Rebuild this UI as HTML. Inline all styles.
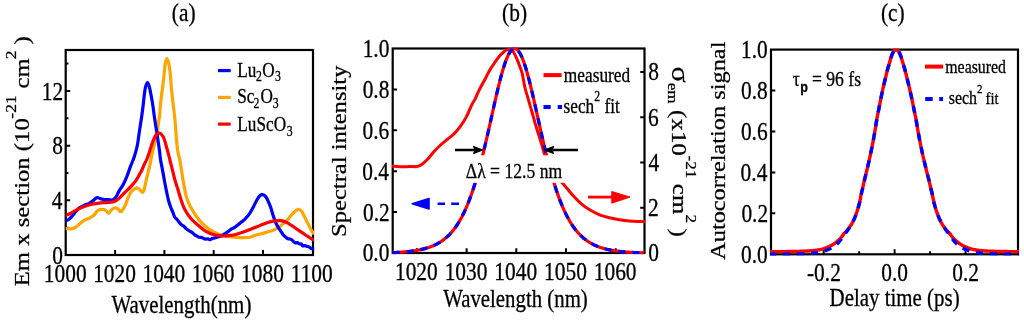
<!DOCTYPE html>
<html><head><meta charset="utf-8"><style>
html,body{margin:0;padding:0;background:#fff;}
svg{display:block;will-change:transform;}
text{font-family:"Liberation Serif", serif;fill:#000;stroke:#000;stroke-width:0.3px;}
</style></head><body>
<svg width="1024" height="322" viewBox="0 0 1024 322">
<defs>
<clipPath id="clipA"><rect x="65.7" y="49.0" width="248.4" height="207.0"/></clipPath>
<clipPath id="clipB"><rect x="391.7" y="47.3" width="253.8" height="206.9"/></clipPath>
<clipPath id="clipC"><rect x="770.0" y="48.4" width="249.0" height="207.1"/></clipPath>
</defs>
<rect width="1024" height="322" fill="#fff"/>
<rect x="65.7" y="50.0" width="247.3" height="205.0" fill="none" stroke="#000" stroke-width="2.2"/>
<path d="M115.10,255.00 V250.00 M164.40,255.00 V250.00 M213.70,255.00 V250.00 M263.00,255.00 V250.00 M65.70,200.32 H70.20 M65.70,145.64 H70.20 M65.70,90.96 H70.20 M65.70,227.66 H68.50 M65.70,172.98 H68.50 M65.70,118.30 H68.50 M65.70,63.62 H68.50 " stroke="#000" stroke-width="2"/>
<g clip-path="url(#clipA)" fill="none" stroke-width="3.2" stroke-linejoin="round" stroke-linecap="round">
<path d="M64.90,228.40 C65.83,228.47 68.78,228.95 70.50,228.80 C72.22,228.65 73.65,228.33 75.20,227.50 C76.75,226.67 78.25,225.03 79.80,223.80 C81.35,222.57 82.93,221.03 84.50,220.10 C86.07,219.17 87.65,218.98 89.20,218.20 C90.75,217.42 92.42,216.65 93.80,215.40 C95.18,214.15 96.25,211.72 97.50,210.70 C98.75,209.68 100.05,209.45 101.30,209.30 C102.55,209.15 103.77,209.15 105.00,209.80 C106.23,210.45 107.62,213.20 108.70,213.20 C109.78,213.20 110.57,210.67 111.50,209.80 C112.43,208.93 113.22,208.15 114.30,208.00 C115.38,207.85 116.92,208.28 118.00,208.90 C119.08,209.52 119.65,212.18 120.80,211.70 C121.95,211.22 123.60,208.58 124.90,206.00 C126.20,203.42 127.37,198.77 128.60,196.20 C129.83,193.63 130.90,192.00 132.30,190.60 C133.70,189.20 135.75,187.95 137.00,187.80 C138.25,187.65 138.87,188.92 139.80,189.70 C140.73,190.48 141.85,192.62 142.60,192.50 C143.35,192.38 143.73,190.92 144.30,189.00 C144.87,187.08 145.35,183.83 146.00,181.00 C146.65,178.17 147.53,174.75 148.20,172.00 C148.87,169.25 149.30,167.77 150.00,164.50 C150.70,161.23 151.48,156.48 152.40,152.40 C153.32,148.32 154.70,143.35 155.50,140.00 C156.30,136.65 156.72,135.03 157.20,132.30 C157.68,129.57 157.98,126.50 158.40,123.60 C158.82,120.70 159.37,118.00 159.70,114.90 C160.03,111.80 160.05,108.60 160.40,105.00 C160.75,101.40 161.40,96.47 161.80,93.30 C162.20,90.13 162.50,88.38 162.80,86.00 C163.10,83.62 163.32,81.60 163.60,79.00 C163.88,76.40 164.20,73.08 164.50,70.40 C164.80,67.72 164.98,64.87 165.40,62.90 C165.82,60.93 166.47,58.60 167.00,58.60 C167.53,58.60 168.12,60.93 168.60,62.90 C169.08,64.87 169.55,67.72 169.90,70.40 C170.25,73.08 170.45,76.07 170.70,79.00 C170.95,81.93 171.17,85.37 171.40,88.00 C171.63,90.63 171.75,91.58 172.10,94.80 C172.45,98.02 173.02,103.10 173.50,107.30 C173.98,111.50 174.50,114.55 175.00,120.00 C175.50,125.45 176.00,134.60 176.50,140.00 C177.00,145.40 177.43,149.07 178.00,152.40 C178.57,155.73 179.33,157.08 179.90,160.00 C180.47,162.92 180.88,166.58 181.40,169.90 C181.92,173.22 182.43,176.58 183.00,179.90 C183.57,183.22 184.08,186.48 184.80,189.80 C185.52,193.12 185.85,196.07 187.30,199.80 C188.75,203.53 191.22,208.47 193.50,212.20 C195.78,215.93 198.30,219.30 201.00,222.20 C203.70,225.10 206.60,227.53 209.70,229.60 C212.80,231.67 216.28,233.43 219.60,234.60 C222.92,235.77 226.77,236.12 229.60,236.60 C232.43,237.08 234.40,237.32 236.60,237.50 C238.80,237.68 240.57,237.73 242.80,237.70 C245.03,237.67 247.77,237.75 250.00,237.30 C252.23,236.85 253.87,235.70 256.20,235.00 C258.53,234.30 261.42,233.80 264.00,233.10 C266.58,232.40 269.87,231.42 271.70,230.80 C273.53,230.18 273.52,230.25 275.00,229.40 C276.48,228.55 278.73,227.08 280.60,225.70 C282.47,224.32 284.33,222.95 286.20,221.10 C288.07,219.25 290.10,216.40 291.80,214.60 C293.50,212.80 295.17,211.15 296.40,210.30 C297.63,209.45 298.27,209.25 299.20,209.50 C300.13,209.75 301.07,210.50 302.00,211.80 C302.93,213.10 303.87,215.45 304.80,217.30 C305.73,219.15 306.67,221.03 307.60,222.90 C308.53,224.77 309.47,226.78 310.40,228.50 C311.33,230.22 312.73,232.42 313.20,233.20" stroke="#ffa500"/>
<path d="M64.90,221.00 C65.53,220.75 67.45,220.37 68.70,219.50 C69.95,218.63 71.17,217.17 72.40,215.80 C73.63,214.43 74.87,212.67 76.10,211.30 C77.33,209.93 78.40,208.62 79.80,207.60 C81.20,206.58 82.93,205.92 84.50,205.20 C86.07,204.48 87.80,204.02 89.20,203.30 C90.60,202.58 91.67,201.83 92.90,200.90 C94.13,199.97 95.37,198.08 96.60,197.70 C97.83,197.32 99.05,198.28 100.30,198.60 C101.55,198.92 102.70,199.43 104.10,199.60 C105.50,199.77 107.38,199.52 108.70,199.60 C110.02,199.68 111.03,200.23 112.00,200.10 C112.97,199.97 113.75,199.45 114.50,198.80 C115.25,198.15 115.70,197.57 116.50,196.20 C117.30,194.83 118.22,192.47 119.30,190.60 C120.38,188.73 121.75,187.32 123.00,185.00 C124.25,182.68 125.55,179.80 126.80,176.70 C128.05,173.60 129.27,169.67 130.50,166.40 C131.73,163.13 133.07,160.58 134.20,157.10 C135.33,153.62 136.52,149.22 137.30,145.50 C138.08,141.78 138.38,138.23 138.90,134.80 C139.42,131.37 139.90,128.22 140.40,124.90 C140.90,121.58 141.43,118.22 141.90,114.90 C142.37,111.58 142.80,108.35 143.20,105.00 C143.60,101.65 143.92,97.78 144.30,94.80 C144.68,91.82 144.97,89.13 145.50,87.10 C146.03,85.07 146.85,82.60 147.50,82.60 C148.15,82.60 148.82,85.07 149.40,87.10 C149.98,89.13 150.43,91.82 151.00,94.80 C151.57,97.78 152.28,101.65 152.80,105.00 C153.32,108.35 153.63,111.58 154.10,114.90 C154.57,118.22 155.08,121.58 155.60,124.90 C156.12,128.22 156.82,132.28 157.20,134.80 C157.58,137.32 157.53,137.47 157.90,140.00 C158.27,142.53 158.95,146.67 159.40,150.00 C159.85,153.33 160.08,156.68 160.60,160.00 C161.12,163.32 161.88,166.58 162.50,169.90 C163.12,173.22 163.68,176.58 164.30,179.90 C164.92,183.22 165.52,186.45 166.20,189.80 C166.88,193.15 167.67,197.13 168.40,200.00 C169.13,202.87 169.88,205.01 170.60,207.00 C171.32,208.99 172.00,210.22 172.70,211.94 C173.40,213.66 174.07,216.05 174.80,217.30 C175.53,218.55 176.33,218.56 177.10,219.45 C177.87,220.33 178.63,221.69 179.40,222.61 C180.17,223.54 180.97,224.41 181.70,225.00 C182.43,225.59 183.10,225.59 183.80,226.15 C184.50,226.72 185.20,227.74 185.90,228.38 C186.60,229.02 187.28,229.48 188.00,230.00 C188.72,230.52 189.49,231.02 190.23,231.47 C190.98,231.93 191.72,232.16 192.47,232.74 C193.21,233.31 193.94,234.34 194.70,234.90 C195.46,235.46 196.23,235.71 197.00,236.11 C197.77,236.51 198.57,237.09 199.30,237.30 C200.03,237.51 200.68,237.16 201.37,237.34 C202.06,237.53 202.74,238.13 203.43,238.42 C204.12,238.71 204.76,239.03 205.50,239.10 C206.24,239.17 207.07,238.75 207.85,238.83 C208.63,238.92 209.42,239.69 210.20,239.60 C210.97,239.51 211.73,238.58 212.50,238.31 C213.27,238.04 214.03,238.19 214.80,238.00 C215.58,237.81 216.37,237.41 217.15,237.16 C217.93,236.91 218.72,236.74 219.50,236.50 C220.28,236.26 221.07,236.13 221.85,235.74 C222.63,235.36 223.04,234.97 224.20,234.20 C225.36,233.43 227.64,231.95 228.80,231.10 C229.96,230.25 230.37,229.60 231.15,229.08 C231.93,228.56 232.72,228.43 233.50,228.00 C234.28,227.57 235.03,227.01 235.80,226.48 C236.57,225.95 237.32,225.44 238.10,224.80 C238.88,224.16 239.67,223.30 240.45,222.67 C241.23,222.03 242.02,221.64 242.80,221.00 C243.58,220.36 244.37,219.62 245.15,218.84 C245.93,218.05 246.69,217.27 247.50,216.30 C248.31,215.33 249.07,214.47 250.00,213.00 C250.93,211.53 252.07,209.45 253.10,207.50 C254.13,205.55 255.17,203.18 256.20,201.30 C257.23,199.42 258.40,197.32 259.30,196.20 C260.20,195.08 260.82,194.78 261.60,194.60 C262.38,194.42 263.22,194.63 264.00,195.10 C264.78,195.57 265.53,196.23 266.30,197.40 C267.07,198.57 267.82,200.28 268.60,202.10 C269.38,203.92 270.22,205.97 271.00,208.30 C271.78,210.63 272.53,213.77 273.30,216.10 C274.07,218.43 274.82,220.50 275.60,222.30 C276.38,224.10 277.08,225.35 278.00,226.90 C278.92,228.45 280.20,230.25 281.10,231.60 C282.00,232.95 282.63,234.08 283.40,235.00 C284.17,235.92 284.93,236.49 285.70,237.13 C286.47,237.76 287.31,238.50 288.00,238.80 C288.69,239.10 289.24,238.79 289.87,238.95 C290.49,239.12 291.11,239.35 291.73,239.79 C292.36,240.23 292.98,241.07 293.60,241.60 C294.22,242.13 294.84,242.77 295.47,242.94 C296.09,243.11 296.71,242.49 297.33,242.63 C297.96,242.78 298.58,243.58 299.20,243.80 C299.82,244.02 300.44,243.60 301.07,243.96 C301.69,244.31 302.31,245.67 302.93,245.96 C303.56,246.25 304.11,245.64 304.80,245.70 C305.49,245.76 306.33,246.11 307.10,246.35 C307.87,246.58 308.70,246.72 309.40,247.10 C310.10,247.48 310.67,248.34 311.30,248.66 C311.93,248.97 312.88,248.94 313.20,249.00" stroke="#0000ff"/>
<path d="M64.90,215.60 C65.68,215.30 67.88,214.62 69.60,213.80 C71.32,212.98 73.33,211.68 75.20,210.70 C77.07,209.72 78.93,208.73 80.80,207.90 C82.67,207.07 84.55,206.32 86.40,205.70 C88.25,205.08 90.05,204.60 91.90,204.20 C93.75,203.80 95.63,203.55 97.50,203.30 C99.37,203.05 101.23,202.85 103.10,202.70 C104.97,202.55 107.13,202.52 108.70,202.40 C110.27,202.28 111.35,202.25 112.50,202.00 C113.65,201.75 114.47,201.55 115.60,200.90 C116.73,200.25 117.75,199.50 119.30,198.10 C120.85,196.70 123.03,194.37 124.90,192.50 C126.77,190.63 128.63,188.92 130.50,186.90 C132.37,184.88 134.52,182.65 136.10,180.40 C137.68,178.15 139.07,175.05 140.00,173.40 C140.93,171.75 140.92,172.18 141.70,170.50 C142.48,168.82 143.93,164.97 144.70,163.30 C145.47,161.63 145.53,162.32 146.30,160.50 C147.07,158.68 148.42,154.98 149.30,152.40 C150.18,149.82 150.70,147.52 151.60,145.00 C152.50,142.48 153.80,139.13 154.70,137.30 C155.60,135.47 156.27,134.68 157.00,134.00 C157.73,133.32 158.35,133.12 159.10,133.20 C159.85,133.28 160.68,133.62 161.50,134.50 C162.32,135.38 163.27,136.75 164.00,138.50 C164.73,140.25 165.23,142.68 165.90,145.00 C166.57,147.32 167.33,149.90 168.00,152.40 C168.67,154.90 169.17,157.08 169.90,160.00 C170.63,162.92 171.57,166.58 172.40,169.90 C173.23,173.22 173.97,176.58 174.90,179.90 C175.83,183.22 176.97,186.45 178.00,189.80 C179.03,193.15 179.97,196.72 181.10,200.00 C182.23,203.28 183.13,206.37 184.80,209.50 C186.47,212.63 188.77,216.08 191.10,218.80 C193.43,221.52 196.40,223.75 198.80,225.80 C201.20,227.85 203.35,229.75 205.50,231.10 C207.65,232.45 209.62,233.18 211.70,233.90 C213.78,234.62 215.92,235.05 218.00,235.40 C220.08,235.75 222.13,236.00 224.20,236.00 C226.27,236.00 228.33,235.70 230.40,235.40 C232.47,235.10 234.53,234.72 236.60,234.20 C238.67,233.68 240.57,233.08 242.80,232.30 C245.03,231.52 247.77,230.40 250.00,229.50 C252.23,228.60 254.13,227.72 256.20,226.90 C258.27,226.08 260.33,225.37 262.40,224.60 C264.47,223.83 266.53,222.92 268.60,222.30 C270.67,221.68 272.80,221.17 274.80,220.90 C276.80,220.63 278.70,220.47 280.60,220.70 C282.50,220.93 284.33,221.47 286.20,222.30 C288.07,223.13 289.95,224.52 291.80,225.70 C293.65,226.88 295.45,228.15 297.30,229.40 C299.15,230.65 301.03,231.95 302.90,233.20 C304.77,234.45 306.78,235.82 308.50,236.90 C310.22,237.98 312.42,239.23 313.20,239.70" stroke="#ff0000"/>
</g>
<text transform="translate(43.86,281.50) scale(0.840,1)" font-size="25.50">1000</text>
<text transform="translate(93.16,281.50) scale(0.840,1)" font-size="25.50">1020</text>
<text transform="translate(142.46,281.50) scale(0.840,1)" font-size="25.50">1040</text>
<text transform="translate(191.76,281.50) scale(0.840,1)" font-size="25.50">1060</text>
<text transform="translate(241.06,281.50) scale(0.840,1)" font-size="25.50">1080</text>
<text transform="translate(290.75,281.50) scale(0.840,1)" font-size="25.50">1100</text>
<text transform="translate(52.13,263.60) scale(0.840,1)" font-size="25.50">0</text>
<text transform="translate(51.65,208.92) scale(0.840,1)" font-size="25.50">4</text>
<text transform="translate(52.13,154.24) scale(0.840,1)" font-size="25.50">8</text>
<text transform="translate(41.78,99.56) scale(0.840,1)" font-size="25.50">12</text>
<text transform="translate(111.38,312.50) scale(0.840,1)" font-size="24.90">Wavelength(nm)</text>
<text transform="translate(171.76,20.50) scale(0.840,1)" font-size="25.50">(a)</text>
<path d="M218,70.6 H230.7" stroke="#0000ff" stroke-width="3.2"/>
<path d="M218,97.4 H230.7" stroke="#ffa500" stroke-width="3.2"/>
<path d="M218,124.1 H230.7" stroke="#ff0000" stroke-width="3.2"/>
<text transform="translate(237.30,76.60) scale(0.840,1)" font-size="20.50">Lu</text>
<text transform="translate(256.08,81.30) scale(0.840,1)" font-size="14.00">2</text>
<text transform="translate(262.29,76.60) scale(0.840,1)" font-size="20.50">O</text>
<text transform="translate(274.94,81.30) scale(0.840,1)" font-size="14.00">3</text>
<text transform="translate(237.15,103.20) scale(0.840,1)" font-size="20.50">Sc</text>
<text transform="translate(253.58,108.30) scale(0.840,1)" font-size="14.00">2</text>
<text transform="translate(260.39,103.20) scale(0.840,1)" font-size="20.50">O</text>
<text transform="translate(272.64,108.30) scale(0.840,1)" font-size="14.00">3</text>
<text transform="translate(237.30,130.50) scale(0.840,1)" font-size="20.50">LuScO</text>
<text transform="translate(286.64,135.60) scale(0.840,1)" font-size="14.00">3</text>
<text transform="translate(28.90,286.22) rotate(-90) scale(1,0.840)" font-size="24.69">Em x section (10</text>
<text transform="translate(16.10,118.65) rotate(-90) scale(1,0.840)" font-size="17.50">-21</text>
<text transform="translate(28.90,88.54) rotate(-90) scale(1,0.840)" font-size="24.69">cm</text>
<text transform="translate(15.90,59.37) rotate(-90) scale(1,0.840)" font-size="17.50">2</text>
<text transform="translate(28.90,44.49) rotate(-90) scale(1,0.840)" font-size="24.69">)</text>
<rect x="392.7" y="48.5" width="251.8" height="204.5" fill="none" stroke="#000" stroke-width="2.2"/>
<path d="M416.90,253.00 V248.20 M466.60,253.00 V248.20 M516.30,253.00 V248.20 M566.00,253.00 V248.20 M615.70,253.00 V248.20 M392.70,212.10 H397.00 M392.70,171.20 H397.00 M392.70,130.30 H397.00 M392.70,89.40 H397.00 M644.50,207.74 H640.20 M644.50,162.48 H640.20 M644.50,117.22 H640.20 M644.50,71.96 H640.20 " stroke="#000" stroke-width="2"/>
<g clip-path="url(#clipB)" fill="none" stroke-linejoin="round">
<path d="M392.00,166.30 C392.42,166.28 392.85,166.12 394.50,166.20 C396.15,166.28 399.42,166.75 401.90,166.80 C404.38,166.85 406.92,166.53 409.40,166.50 C411.88,166.47 414.73,166.95 416.80,166.60 C418.87,166.25 419.97,165.67 421.80,164.40 C423.63,163.13 425.83,161.07 427.80,159.00 C429.77,156.93 431.47,154.33 433.60,152.00 C435.73,149.67 438.27,147.13 440.60,145.00 C442.93,142.87 445.28,141.13 447.60,139.20 C449.92,137.27 452.38,135.53 454.50,133.40 C456.62,131.27 458.35,129.12 460.30,126.40 C462.25,123.68 464.25,120.78 466.20,117.10 C468.15,113.42 470.50,107.33 472.00,104.30 C473.50,101.27 474.15,100.97 475.20,98.90 C476.25,96.83 477.27,94.10 478.30,91.90 C479.33,89.70 480.37,87.63 481.40,85.70 C482.43,83.77 483.47,82.23 484.50,80.30 C485.53,78.37 486.57,76.05 487.60,74.10 C488.63,72.15 489.67,70.28 490.70,68.60 C491.73,66.92 492.77,65.55 493.80,64.00 C494.83,62.45 495.87,60.73 496.90,59.30 C497.93,57.87 498.97,56.53 500.00,55.40 C501.03,54.27 502.07,53.37 503.10,52.50 C504.13,51.63 505.07,50.72 506.20,50.20 C507.33,49.68 508.87,49.30 509.90,49.40 C510.93,49.50 511.57,49.93 512.40,50.80 C513.23,51.67 514.07,53.05 514.90,54.60 C515.73,56.15 516.58,58.13 517.40,60.10 C518.22,62.07 518.98,64.12 519.80,66.40 C520.62,68.68 521.45,70.28 522.30,73.80 C523.15,77.32 524.05,83.78 524.90,87.50 C525.75,91.22 526.57,93.22 527.40,96.10 C528.23,98.98 529.07,101.90 529.90,104.80 C530.73,107.70 531.45,110.15 532.40,113.50 C533.35,116.85 534.55,121.33 535.60,124.90 C536.65,128.47 537.67,131.58 538.70,134.90 C539.73,138.22 540.77,141.45 541.80,144.80 C542.83,148.15 543.53,151.47 544.90,155.00 C546.27,158.53 548.15,162.50 550.00,166.00 C551.85,169.50 553.93,173.17 556.00,176.00 C558.07,178.83 560.52,180.88 562.40,183.00 C564.28,185.12 565.45,186.52 567.30,188.70 C569.15,190.88 571.22,193.62 573.50,196.10 C575.78,198.58 578.30,201.32 581.00,203.60 C583.70,205.88 586.60,207.93 589.70,209.80 C592.80,211.67 596.28,213.48 599.60,214.80 C602.92,216.12 606.28,216.88 609.60,217.70 C612.92,218.52 616.20,219.15 619.50,219.70 C622.80,220.25 626.08,220.70 629.40,221.00 C632.72,221.30 636.80,221.40 639.40,221.50 C642.00,221.60 644.07,221.58 645.00,221.60" stroke="#ff0000" stroke-width="3"/>
<path d="M392.70,252.64 L393.70,252.59 L394.70,252.54 L395.70,252.49 L396.70,252.44 L397.70,252.38 L398.70,252.32 L399.70,252.26 L400.70,252.19 L401.70,252.12 L402.70,252.04 L403.70,251.96 L404.70,251.88 L405.70,251.79 L406.70,251.70 L407.70,251.60 L408.70,251.49 L409.70,251.38 L410.70,251.26 L411.70,251.13 L412.70,251.00 L413.70,250.86 L414.70,250.71 L415.70,250.55 L416.70,250.38 L417.70,250.21 L418.70,250.02 L419.70,249.82 L420.70,249.61 L421.70,249.39 L422.70,249.16 L423.70,248.91 L424.70,248.65 L425.70,248.37 L426.70,248.08 L427.70,247.77 L428.70,247.45 L429.70,247.10 L430.70,246.74 L431.70,246.35 L432.70,245.94 L433.70,245.51 L434.70,245.06 L435.70,244.58 L436.70,244.07 L437.70,243.53 L438.70,242.97 L439.70,242.37 L440.70,241.74 L441.70,241.08 L442.70,240.37 L443.70,239.63 L444.70,238.85 L445.70,238.03 L446.70,237.16 L447.70,236.25 L448.70,235.28 L449.70,234.27 L450.70,233.20 L451.70,232.07 L452.70,230.89 L453.70,229.65 L454.70,228.34 L455.70,226.96 L456.70,225.51 L457.70,224.00 L458.70,222.40 L459.70,220.73 L460.70,218.98 L461.70,217.14 L462.70,215.22 L463.70,213.20 L464.70,211.10 L465.70,208.89 L466.70,206.59 L467.70,204.19 L468.70,201.69 L469.70,199.08 L470.70,196.37 L471.70,193.54 L472.70,190.61 L473.70,187.57 L474.70,184.41 L475.70,181.14 L476.70,177.77 L477.70,174.28 L478.70,170.68 L479.70,166.98 L480.70,163.17 L481.70,159.26 L482.70,155.26 L483.70,151.17 L484.70,146.99 L485.70,142.74 L486.70,138.42 L487.70,134.04 L488.70,129.61 L489.70,125.14 L490.70,120.65 L491.70,116.14 L492.70,111.64 L493.70,107.15 L494.70,102.70 L495.70,98.30 L496.70,93.97 L497.70,89.72 L498.70,85.58 L499.70,81.57 L500.70,77.70 L501.70,74.00 L502.70,70.47 L503.70,67.16 L504.70,64.06 L505.70,61.20 L506.70,58.59 L507.70,56.26 L508.70,54.21 L509.70,52.46 L510.70,51.02 L511.70,49.90 L512.70,49.10 L513.70,48.64 L514.70,48.50 L515.70,48.70 L516.70,49.24 L517.70,50.10 L518.70,51.29 L519.70,52.79 L520.70,54.60 L521.70,56.71 L522.70,59.09 L523.70,61.75 L524.70,64.66 L525.70,67.80 L526.70,71.16 L527.70,74.72 L528.70,78.46 L529.70,82.36 L530.70,86.40 L531.70,90.56 L532.70,94.83 L533.70,99.18 L534.70,103.59 L535.70,108.05 L536.70,112.54 L537.70,117.04 L538.70,121.55 L539.70,126.04 L540.70,130.50 L541.70,134.92 L542.70,139.29 L543.70,143.60 L544.70,147.84 L545.70,152.00 L546.70,156.07 L547.70,160.05 L548.70,163.94 L549.70,167.73 L550.70,171.41 L551.70,174.98 L552.70,178.45 L553.70,181.81 L554.70,185.05 L555.70,188.18 L556.70,191.21 L557.70,194.12 L558.70,196.92 L559.70,199.61 L560.70,202.20 L561.70,204.68 L562.70,207.06 L563.70,209.34 L564.70,211.52 L565.70,213.61 L566.70,215.61 L567.70,217.51 L568.70,219.33 L569.70,221.07 L570.70,222.73 L571.70,224.31 L572.70,225.81 L573.70,227.24 L574.70,228.60 L575.70,229.90 L576.70,231.13 L577.70,232.30 L578.70,233.42 L579.70,234.48 L580.70,235.48 L581.70,236.43 L582.70,237.34 L583.70,238.20 L584.70,239.01 L585.70,239.78 L586.70,240.52 L587.70,241.21 L588.70,241.87 L589.70,242.49 L590.70,243.08 L591.70,243.64 L592.70,244.17 L593.70,244.68 L594.70,245.15 L595.70,245.60 L596.70,246.03 L597.70,246.43 L598.70,246.81 L599.70,247.17 L600.70,247.51 L601.70,247.84 L602.70,248.14 L603.70,248.43 L604.70,248.70 L605.70,248.96 L606.70,249.21 L607.70,249.44 L608.70,249.66 L609.70,249.86 L610.70,250.06 L611.70,250.24 L612.70,250.42 L613.70,250.58 L614.70,250.74 L615.70,250.89 L616.70,251.03 L617.70,251.16 L618.70,251.28 L619.70,251.40 L620.70,251.51 L621.70,251.62 L622.70,251.72 L623.70,251.81 L624.70,251.90 L625.70,251.98 L626.70,252.06 L627.70,252.13 L628.70,252.21 L629.70,252.27 L630.70,252.34 L631.70,252.39 L632.70,252.45 L633.70,252.50 L634.70,252.55 L635.70,252.60 L636.70,252.65 L637.70,252.69 L638.70,252.73 L639.70,252.77 L640.70,252.80 L641.70,252.84 L642.70,252.87 L643.70,252.90" stroke="#ff0000" stroke-width="3.2"/>
<path d="M392.70,252.64 L393.70,252.59 L394.70,252.54 L395.70,252.49 L396.70,252.44 L397.70,252.38 L398.70,252.32 L399.70,252.26 L400.70,252.19 L401.70,252.12 L402.70,252.04 L403.70,251.96 L404.70,251.88 L405.70,251.79 L406.70,251.70 L407.70,251.60 L408.70,251.49 L409.70,251.38 L410.70,251.26 L411.70,251.13 L412.70,251.00 L413.70,250.86 L414.70,250.71 L415.70,250.55 L416.70,250.38 L417.70,250.21 L418.70,250.02 L419.70,249.82 L420.70,249.61 L421.70,249.39 L422.70,249.16 L423.70,248.91 L424.70,248.65 L425.70,248.37 L426.70,248.08 L427.70,247.77 L428.70,247.45 L429.70,247.10 L430.70,246.74 L431.70,246.35 L432.70,245.94 L433.70,245.51 L434.70,245.06 L435.70,244.58 L436.70,244.07 L437.70,243.53 L438.70,242.97 L439.70,242.37 L440.70,241.74 L441.70,241.08 L442.70,240.37 L443.70,239.63 L444.70,238.85 L445.70,238.03 L446.70,237.16 L447.70,236.25 L448.70,235.28 L449.70,234.27 L450.70,233.20 L451.70,232.07 L452.70,230.89 L453.70,229.65 L454.70,228.34 L455.70,226.96 L456.70,225.51 L457.70,224.00 L458.70,222.40 L459.70,220.73 L460.70,218.98 L461.70,217.14 L462.70,215.22 L463.70,213.20 L464.70,211.10 L465.70,208.89 L466.70,206.59 L467.70,204.19 L468.70,201.69 L469.70,199.08 L470.70,196.37 L471.70,193.54 L472.70,190.61 L473.70,187.57 L474.70,184.41 L475.70,181.14 L476.70,177.77 L477.70,174.28 L478.70,170.68 L479.70,166.98 L480.70,163.17 L481.70,159.26 L482.70,155.26 L483.70,151.17 L484.70,146.99 L485.70,142.74 L486.70,138.42 L487.70,134.04 L488.70,129.61 L489.70,125.14 L490.70,120.65 L491.70,116.14 L492.70,111.64 L493.70,107.15 L494.70,102.70 L495.70,98.30 L496.70,93.97 L497.70,89.72 L498.70,85.58 L499.70,81.57 L500.70,77.70 L501.70,74.00 L502.70,70.47 L503.70,67.16 L504.70,64.06 L505.70,61.20 L506.70,58.59 L507.70,56.26 L508.70,54.21 L509.70,52.46 L510.70,51.02 L511.70,49.90 L512.70,49.10 L513.70,48.64 L514.70,48.50 L515.70,48.70 L516.70,49.24 L517.70,50.10 L518.70,51.29 L519.70,52.79 L520.70,54.60 L521.70,56.71 L522.70,59.09 L523.70,61.75 L524.70,64.66 L525.70,67.80 L526.70,71.16 L527.70,74.72 L528.70,78.46 L529.70,82.36 L530.70,86.40 L531.70,90.56 L532.70,94.83 L533.70,99.18 L534.70,103.59 L535.70,108.05 L536.70,112.54 L537.70,117.04 L538.70,121.55 L539.70,126.04 L540.70,130.50 L541.70,134.92 L542.70,139.29 L543.70,143.60 L544.70,147.84 L545.70,152.00 L546.70,156.07 L547.70,160.05 L548.70,163.94 L549.70,167.73 L550.70,171.41 L551.70,174.98 L552.70,178.45 L553.70,181.81 L554.70,185.05 L555.70,188.18 L556.70,191.21 L557.70,194.12 L558.70,196.92 L559.70,199.61 L560.70,202.20 L561.70,204.68 L562.70,207.06 L563.70,209.34 L564.70,211.52 L565.70,213.61 L566.70,215.61 L567.70,217.51 L568.70,219.33 L569.70,221.07 L570.70,222.73 L571.70,224.31 L572.70,225.81 L573.70,227.24 L574.70,228.60 L575.70,229.90 L576.70,231.13 L577.70,232.30 L578.70,233.42 L579.70,234.48 L580.70,235.48 L581.70,236.43 L582.70,237.34 L583.70,238.20 L584.70,239.01 L585.70,239.78 L586.70,240.52 L587.70,241.21 L588.70,241.87 L589.70,242.49 L590.70,243.08 L591.70,243.64 L592.70,244.17 L593.70,244.68 L594.70,245.15 L595.70,245.60 L596.70,246.03 L597.70,246.43 L598.70,246.81 L599.70,247.17 L600.70,247.51 L601.70,247.84 L602.70,248.14 L603.70,248.43 L604.70,248.70 L605.70,248.96 L606.70,249.21 L607.70,249.44 L608.70,249.66 L609.70,249.86 L610.70,250.06 L611.70,250.24 L612.70,250.42 L613.70,250.58 L614.70,250.74 L615.70,250.89 L616.70,251.03 L617.70,251.16 L618.70,251.28 L619.70,251.40 L620.70,251.51 L621.70,251.62 L622.70,251.72 L623.70,251.81 L624.70,251.90 L625.70,251.98 L626.70,252.06 L627.70,252.13 L628.70,252.21 L629.70,252.27 L630.70,252.34 L631.70,252.39 L632.70,252.45 L633.70,252.50 L634.70,252.55 L635.70,252.60 L636.70,252.65 L637.70,252.69 L638.70,252.73 L639.70,252.77 L640.70,252.80 L641.70,252.84 L642.70,252.87 L643.70,252.90" stroke="#0000ff" stroke-width="3.2" stroke-dasharray="7.2 6.8"/>
</g>
<rect x="464" y="155.3" width="104" height="27.5" fill="#fff"/>
<text transform="translate(394.96,280.20) scale(0.840,1)" font-size="25.50">1020</text>
<text transform="translate(444.66,280.20) scale(0.840,1)" font-size="25.50">1030</text>
<text transform="translate(494.36,280.20) scale(0.840,1)" font-size="25.50">1040</text>
<text transform="translate(544.06,280.20) scale(0.840,1)" font-size="25.50">1050</text>
<text transform="translate(593.76,280.20) scale(0.840,1)" font-size="25.50">1060</text>
<text transform="translate(362.66,261.40) scale(0.840,1)" font-size="25.50">0.0</text>
<text transform="translate(363.02,220.50) scale(0.840,1)" font-size="25.50">0.2</text>
<text transform="translate(362.19,179.60) scale(0.840,1)" font-size="25.50">0.4</text>
<text transform="translate(362.49,138.70) scale(0.840,1)" font-size="25.50">0.6</text>
<text transform="translate(362.66,97.80) scale(0.840,1)" font-size="25.50">0.8</text>
<text transform="translate(362.66,56.90) scale(0.840,1)" font-size="25.50">1.0</text>
<text transform="translate(648.19,261.40) scale(0.840,1)" font-size="25.50">0</text>
<text transform="translate(648.06,216.14) scale(0.840,1)" font-size="25.50">2</text>
<text transform="translate(648.57,170.88) scale(0.840,1)" font-size="25.50">4</text>
<text transform="translate(648.08,125.62) scale(0.840,1)" font-size="25.50">6</text>
<text transform="translate(648.19,80.36) scale(0.840,1)" font-size="25.50">8</text>
<text transform="translate(443.18,307.10) scale(0.840,1)" font-size="24.80">Wavelength (nm)</text>
<text transform="translate(502.06,20.50) scale(0.840,1)" font-size="25.50">(b)</text>
<text transform="translate(346.00,236.95) rotate(-90) scale(1,0.840)" font-size="24.60">Spectral intensity</text>
<text transform="translate(672.10,66.46) rotate(90) scale(1,0.840)" font-size="30.00">σ</text>
<text transform="translate(667.50,82.63) rotate(90) scale(1,0.840)" font-size="17.20">em</text>
<text transform="translate(672.20,110.10) rotate(90) scale(1,0.840)" font-size="24.97">(x10</text>
<text transform="translate(686.10,155.46) rotate(90) scale(1,0.840)" font-size="17.20">-21</text>
<text transform="translate(672.50,183.85) rotate(90) scale(1,0.840)" font-size="24.97">cm</text>
<text transform="translate(686.00,214.44) rotate(90) scale(1,0.840)" font-size="17.20">2</text>
<text transform="translate(672.20,228.50) rotate(90) scale(1,0.840)" font-size="24.97">)</text>
<path d="M543.5,75.1 H561.6" stroke="#ff0000" stroke-width="4"/>
<path d="M543.5,107.1 H562" stroke="#0000ff" stroke-width="4" stroke-dasharray="7.2 7"/>
<text transform="translate(563.84,81.60) scale(0.840,1)" font-size="20.60">measured</text>
<text transform="translate(563.49,113.3) scale(0.840,1)" font-size="20.6">sech<tspan font-size="14" dy="-12">2</tspan><tspan dy="12"> fit</tspan></text>
<path d="M455,150 H475 M578,150 H553" stroke="#000" stroke-width="2.6"/>
<path d="M473.6,146.6 L482.6,150 L473.6,153.4 L475.2,150 Z" fill="#000" stroke="#000" stroke-width="1.2" stroke-linejoin="round"/>
<path d="M553.6,146.6 L544.4,150 L553.6,153.4 L552,150 Z" fill="#000" stroke="#000" stroke-width="1.2" stroke-linejoin="round"/>
<text transform="translate(465.83,178.00) scale(0.840,1)" font-size="21.00">Δλ = 12.5 nm</text>
<path d="M412.2,203.8 L429,198.6 L429,209.0 Z" fill="#0000ff" stroke="#0000ff" stroke-width="1.6" stroke-linejoin="round"/>
<path d="M437.6,203.8 H445 M451.2,203.8 H459" stroke="#0000ff" stroke-width="2.4"/>
<path d="M588,197.1 H612" stroke="#ff0000" stroke-width="2.8"/>
<path d="M611.8,191.5 L630,197.1 L611.8,203.2 Z" fill="#ff0000" stroke="#ff0000" stroke-width="1" stroke-linejoin="round"/>
<rect x="771.0" y="49.6" width="247.0" height="204.7" fill="none" stroke="#000" stroke-width="2.2"/>
<path d="M823.70,254.30 V249.30 M894.60,254.30 V249.30 M965.50,254.30 V249.30 M788.25,254.30 V251.30 M859.15,254.30 V251.30 M930.05,254.30 V251.30 M1000.95,254.30 V251.30 M771.00,213.36 H775.30 M771.00,172.42 H775.30 M771.00,131.48 H775.30 M771.00,90.54 H775.30 " stroke="#000" stroke-width="2"/>
<g clip-path="url(#clipC)" fill="none" stroke-linejoin="round">
<path d="M769.00,251.69 L770.00,251.69 L771.00,251.69 L772.00,251.68 L773.00,251.68 L774.00,251.67 L775.00,251.67 L776.00,251.66 L777.00,251.66 L778.00,251.65 L779.00,251.64 L780.00,251.64 L781.00,251.63 L782.00,251.62 L783.00,251.61 L784.00,251.60 L785.00,251.59 L786.00,251.58 L787.00,251.56 L788.00,251.55 L789.00,251.54 L790.00,251.52 L791.00,251.51 L792.00,251.49 L793.00,251.48 L794.00,251.46 L795.00,251.44 L796.00,251.42 L797.00,251.40 L798.00,251.38 L799.00,251.35 L800.00,251.32 L801.00,251.30 L802.00,251.27 L803.00,251.24 L804.00,251.20 L805.00,251.17 L806.00,251.13 L807.00,251.07 L808.00,251.01 L809.00,250.94 L810.00,250.87 L811.00,250.79 L812.00,250.70 L813.00,250.61 L814.00,250.50 L815.00,250.39 L816.00,250.26 L817.00,250.13 L818.00,249.97 L819.00,249.79 L820.00,249.58 L821.00,249.36 L822.00,249.11 L823.00,248.83 L824.00,248.53 L825.00,248.19 L826.00,247.82 L827.00,247.41 L828.00,247.00 L829.00,246.58 L830.00,246.12 L831.00,245.63 L832.00,245.09 L833.00,244.51 L834.00,243.87 L835.00,243.18 L836.00,242.38 L837.00,241.49 L838.00,240.69 L839.00,239.79 L840.00,238.78 L841.00,237.66 L842.00,236.42 L843.00,235.03 L844.00,233.58 L845.00,232.60 L846.00,231.55 L847.00,230.43 L848.00,229.22 L849.00,227.94 L850.00,226.56 L851.00,225.07 L852.00,223.32 L853.00,221.47 L854.00,219.46 L855.00,217.05 L856.00,214.47 L857.00,211.57 L858.00,208.38 L859.00,204.80 L860.00,200.75 L861.00,195.03 L862.00,190.87 L863.00,186.63 L864.00,182.09 L865.00,177.80 L866.00,173.87 L867.00,169.75 L868.00,165.40 L869.00,161.09 L870.00,156.63 L871.00,151.94 L872.00,147.02 L873.00,141.85 L874.00,136.44 L875.00,130.59 L876.00,124.38 L877.00,118.04 L878.00,113.15 L879.00,108.07 L880.00,102.82 L881.00,97.80 L882.00,93.11 L883.00,88.27 L884.00,84.14 L885.00,80.01 L886.00,75.78 L887.00,71.45 L888.00,67.88 L889.00,64.46 L890.00,60.98 L891.00,57.42 L892.00,54.66 L893.00,52.49 L894.00,50.93 L895.00,49.96 L896.00,49.60 L897.00,49.84 L898.00,50.65 L899.00,52.06 L900.00,54.04 L901.00,56.61 L902.00,59.95 L903.00,63.35 L904.00,66.69 L905.00,69.98 L906.00,74.00 L907.00,78.12 L908.00,82.14 L909.00,86.08 L910.00,90.42 L911.00,95.01 L912.00,99.46 L913.00,104.50 L914.00,109.48 L915.00,114.29 L916.00,119.11 L917.00,125.24 L918.00,131.09 L919.00,136.63 L920.00,141.80 L921.00,146.74 L922.00,151.48 L923.00,156.00 L924.00,160.33 L925.00,164.48 L926.00,168.69 L927.00,172.73 L928.00,176.58 L929.00,180.43 L930.00,184.89 L931.00,189.09 L932.00,193.04 L933.00,197.94 L934.00,202.69 L935.00,206.37 L936.00,209.66 L937.00,212.68 L938.00,215.37 L939.00,217.84 L940.00,220.11 L941.00,222.01 L942.00,223.80 L943.00,225.48 L944.00,226.90 L945.00,228.23 L946.00,229.49 L947.00,230.66 L948.00,231.76 L949.00,232.78 L950.00,233.76 L951.00,235.25 L952.00,236.60 L953.00,237.81 L954.00,238.91 L955.00,239.89 L956.00,240.77 L957.00,241.57 L958.00,242.45 L959.00,243.23 L960.00,243.92 L961.00,244.55 L962.00,245.12 L963.00,245.66 L964.00,246.15 L965.00,246.60 L966.00,247.01 L967.00,247.42 L968.00,247.83 L969.00,248.20 L970.00,248.53 L971.00,248.84 L972.00,249.11 L973.00,249.36 L974.00,249.59 L975.00,249.79 L976.00,249.97 L977.00,250.13 L978.00,250.27 L979.00,250.39 L980.00,250.50 L981.00,250.61 L982.00,250.70 L983.00,250.79 L984.00,250.87 L985.00,250.94 L986.00,251.01 L987.00,251.07 L988.00,251.13 L989.00,251.17 L990.00,251.20 L991.00,251.24 L992.00,251.27 L993.00,251.30 L994.00,251.32 L995.00,251.35 L996.00,251.38 L997.00,251.40 L998.00,251.42 L999.00,251.44 L1000.00,251.46 L1001.00,251.48 L1002.00,251.49 L1003.00,251.51 L1004.00,251.52 L1005.00,251.54 L1006.00,251.55 L1007.00,251.56 L1008.00,251.58 L1009.00,251.59 L1010.00,251.60 L1011.00,251.61 L1012.00,251.62 L1013.00,251.63 L1014.00,251.64 L1015.00,251.64 L1016.00,251.65 L1017.00,251.66 L1018.00,251.66 L1019.00,251.67 L1020.00,251.67" stroke="#ff0000" stroke-width="3.4"/>
<path d="M769.00,254.25 L770.00,254.25 L771.00,254.25 L772.00,254.24 L773.00,254.24 L774.00,254.23 L775.00,254.23 L776.00,254.22 L777.00,254.21 L778.00,254.21 L779.00,254.20 L780.00,254.19 L781.00,254.19 L782.00,254.18 L783.00,254.17 L784.00,254.16 L785.00,254.15 L786.00,254.14 L787.00,254.12 L788.00,254.11 L789.00,254.10 L790.00,254.08 L791.00,254.07 L792.00,254.05 L793.00,254.03 L794.00,254.02 L795.00,254.00 L796.00,253.98 L797.00,253.96 L798.00,253.93 L799.00,253.91 L800.00,253.88 L801.00,253.86 L802.00,253.83 L803.00,253.79 L804.00,253.76 L805.00,253.72 L806.00,253.69 L807.00,253.63 L808.00,253.57 L809.00,253.50 L810.00,253.43 L811.00,253.35 L812.00,253.26 L813.00,253.16 L814.00,253.06 L815.00,252.95 L816.00,252.82 L817.00,252.69 L818.00,252.53 L819.00,252.35 L820.00,252.14 L821.00,251.91 L822.00,251.67 L823.00,251.39 L824.00,251.08 L825.00,250.75 L826.00,250.38 L827.00,249.96 L828.00,249.56 L829.00,249.14 L830.00,248.68 L831.00,248.19 L832.00,247.65 L833.00,247.07 L834.00,246.43 L835.00,245.74 L836.00,244.94 L837.00,244.04 L838.00,243.05 L839.00,241.97 L840.00,240.78 L841.00,239.48 L842.00,238.05 L843.00,236.48 L844.00,234.84 L845.00,233.68 L846.00,232.45 L847.00,231.14 L848.00,229.75 L849.00,228.28 L850.00,226.72 L851.00,225.07 L852.00,223.32 L853.00,221.47 L854.00,219.46 L855.00,217.05 L856.00,214.47 L857.00,211.57 L858.00,208.38 L859.00,204.80 L860.00,200.75 L861.00,195.03 L862.00,190.87 L863.00,186.63 L864.00,182.09 L865.00,177.80 L866.00,173.87 L867.00,169.75 L868.00,165.40 L869.00,161.09 L870.00,156.63 L871.00,151.94 L872.00,147.02 L873.00,141.85 L874.00,136.44 L875.00,130.59 L876.00,124.38 L877.00,118.04 L878.00,113.15 L879.00,108.07 L880.00,102.82 L881.00,97.80 L882.00,93.11 L883.00,88.27 L884.00,84.14 L885.00,80.01 L886.00,75.78 L887.00,71.45 L888.00,67.88 L889.00,64.46 L890.00,60.98 L891.00,57.42 L892.00,54.66 L893.00,52.49 L894.00,50.93 L895.00,49.96 L896.00,49.60 L897.00,49.84 L898.00,50.65 L899.00,52.06 L900.00,54.04 L901.00,56.61 L902.00,59.95 L903.00,63.35 L904.00,66.69 L905.00,69.98 L906.00,74.00 L907.00,78.12 L908.00,82.14 L909.00,86.08 L910.00,90.42 L911.00,95.01 L912.00,99.46 L913.00,104.50 L914.00,109.48 L915.00,114.29 L916.00,119.11 L917.00,125.24 L918.00,131.09 L919.00,136.63 L920.00,141.80 L921.00,146.74 L922.00,151.48 L923.00,156.00 L924.00,160.33 L925.00,164.48 L926.00,168.69 L927.00,172.73 L928.00,176.58 L929.00,180.43 L930.00,184.89 L931.00,189.09 L932.00,193.04 L933.00,197.94 L934.00,202.69 L935.00,206.37 L936.00,209.66 L937.00,212.68 L938.00,215.37 L939.00,217.84 L940.00,220.11 L941.00,222.01 L942.00,223.80 L943.00,225.50 L944.00,227.10 L945.00,228.62 L946.00,230.05 L947.00,231.41 L948.00,232.69 L949.00,233.89 L950.00,235.06 L951.00,236.73 L952.00,238.26 L953.00,239.65 L954.00,240.93 L955.00,242.09 L956.00,243.16 L957.00,244.13 L958.00,245.01 L959.00,245.79 L960.00,246.47 L961.00,247.10 L962.00,247.68 L963.00,248.22 L964.00,248.71 L965.00,249.16 L966.00,249.57 L967.00,249.98 L968.00,250.39 L969.00,250.76 L970.00,251.09 L971.00,251.40 L972.00,251.67 L973.00,251.92 L974.00,252.14 L975.00,252.35 L976.00,252.53 L977.00,252.69 L978.00,252.82 L979.00,252.95 L980.00,253.06 L981.00,253.17 L982.00,253.26 L983.00,253.35 L984.00,253.43 L985.00,253.50 L986.00,253.57 L987.00,253.63 L988.00,253.69 L989.00,253.72 L990.00,253.76 L991.00,253.79 L992.00,253.83 L993.00,253.86 L994.00,253.88 L995.00,253.91 L996.00,253.93 L997.00,253.96 L998.00,253.98 L999.00,254.00 L1000.00,254.02 L1001.00,254.03 L1002.00,254.05 L1003.00,254.07 L1004.00,254.08 L1005.00,254.10 L1006.00,254.11 L1007.00,254.12 L1008.00,254.14 L1009.00,254.15 L1010.00,254.16 L1011.00,254.17 L1012.00,254.18 L1013.00,254.19 L1014.00,254.19 L1015.00,254.20 L1016.00,254.21 L1017.00,254.21 L1018.00,254.22 L1019.00,254.23 L1020.00,254.23" stroke="#0000ff" stroke-width="3.4" stroke-dasharray="7.2 6.8"/>
</g>
<text transform="translate(806.95,280.80) scale(0.840,1)" font-size="25.50">-0.2</text>
<text transform="translate(881.22,280.80) scale(0.840,1)" font-size="25.50">0.0</text>
<text transform="translate(952.31,280.80) scale(0.840,1)" font-size="25.50">0.2</text>
<text transform="translate(741.06,262.70) scale(0.840,1)" font-size="25.50">0.0</text>
<text transform="translate(741.42,221.76) scale(0.840,1)" font-size="25.50">0.2</text>
<text transform="translate(740.59,180.82) scale(0.840,1)" font-size="25.50">0.4</text>
<text transform="translate(740.89,139.88) scale(0.840,1)" font-size="25.50">0.6</text>
<text transform="translate(741.06,98.94) scale(0.840,1)" font-size="25.50">0.8</text>
<text transform="translate(741.06,58.00) scale(0.840,1)" font-size="25.50">1.0</text>
<text transform="translate(829.59,306.00) scale(0.840,1)" font-size="24.90">Delay time (ps)</text>
<text transform="translate(880.96,20.50) scale(0.840,1)" font-size="25.50">(c)</text>
<text transform="translate(724.50,259.84) rotate(-90) scale(1,0.840)" font-size="24.34">Autocorrelation signal</text>
<path d="M925,66.6 H943.1" stroke="#ff0000" stroke-width="4"/>
<path d="M925.2,99 H943" stroke="#0000ff" stroke-width="4" stroke-dasharray="7.5 6.5"/>
<text transform="translate(945.27,73.00) scale(0.840,1)" font-size="18.90">measured</text>
<text transform="translate(948.85,104) scale(0.840,1)" font-size="18.9">sech<tspan font-size="13" dy="-11">2</tspan><tspan dy="11" dx="-0.8" font-size="17.5"> fit</tspan></text>
<text transform="translate(792.81,85.5) scale(0.840,1)" font-size="21">&#964;<tspan font-family="Liberation Sans" font-size="15" dy="6.5" dx="0.3" font-weight="bold">p</tspan><tspan dy="-6.5" dx="-0.4"> = 96 fs</tspan></text>
</svg>
</body></html>
